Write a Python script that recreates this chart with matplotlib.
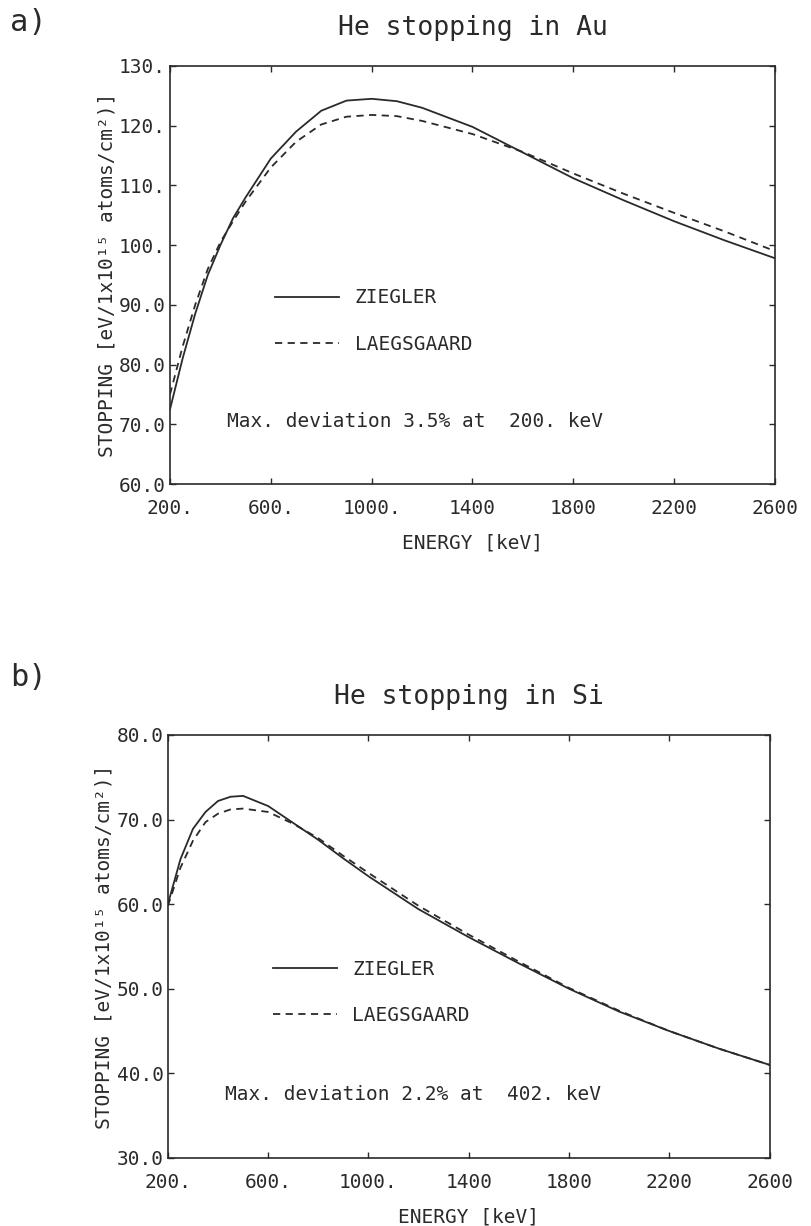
import numpy as np
import matplotlib.pyplot as plt

plt.rcParams['font.family'] = ['DejaVu Sans Mono', 'DejaVu Sans']

# He stopping in Au
energy_au = [200, 250, 300, 350, 400, 450, 500, 600, 700, 800, 900, 1000,
             1100, 1200, 1400, 1600, 1800, 2000, 2200, 2400, 2600]
ziegler_au = [72.5, 81.0, 88.5, 95.0, 100.0, 104.5, 108.0, 114.5, 119.0, 122.5,
              124.2, 124.5, 124.1, 123.0, 119.8, 115.5, 111.2, 107.5, 104.0,
              100.8, 97.8]
laeg_au = [75.0, 83.0, 90.0, 96.0, 100.5, 104.0, 107.3, 113.0, 117.3, 120.2,
           121.5, 121.8, 121.6, 120.8, 118.6, 115.6, 112.0, 108.6, 105.4,
           102.3, 99.0]

# He stopping in Si
energy_si = [200, 250, 300, 350, 400, 450, 500, 600, 700, 800, 900, 1000,
             1200, 1400, 1600, 1800, 2000, 2200, 2400, 2600]
ziegler_si = [60.0, 65.3, 68.9, 70.9, 72.2, 72.7, 72.8, 71.6, 69.6, 67.6, 65.4,
              63.3, 59.4, 56.1, 53.0, 50.0, 47.3, 45.0, 42.9, 41.0]
laeg_si = [59.8, 64.3, 67.5, 69.7, 70.7, 71.2, 71.3, 70.9, 69.5, 67.8, 65.7,
           63.7, 59.8, 56.4, 53.2, 50.1, 47.4, 45.0, 42.9, 41.0]

xticks = [200, 600, 1000, 1400, 1800, 2200, 2600]
xticklabels = ["200.", "600.", "1000.", "1400", "1800", "2200", "2600"]
yticks_au = [60, 70, 80, 90, 100, 110, 120, 130]
yticklabels_au = ["60.0", "70.0", "80.0", "90.0", "100.", "110.", "120.", "130."]
yticks_si = [30, 40, 50, 60, 70, 80]
yticklabels_si = ["30.0", "40.0", "50.0", "60.0", "70.0", "80.0"]

ink = "#2a2a2a"
ylab = "STOPPING [eV/1x10\u00b9\u2075 atoms/cm\u00b2)]"

fig = plt.figure(figsize=(8.11, 12.26), dpi=100)
ax1 = fig.add_axes([0.2096, 0.6052, 0.746, 0.341])
ax2 = fig.add_axes([0.207, 0.0555, 0.742, 0.345])


def draw(ax, e, z, l, yticks, ylabels, title, note):
    ax.plot(e, z, color=ink, lw=1.3, label="ZIEGLER")
    ax.plot(e, l, color=ink, lw=1.3, linestyle=(0, (4, 3)), label="LAEGSGAARD")
    ax.set_xlim(200, 2600)
    ax.set_ylim(yticks[0], yticks[-1])
    ax.set_xticks(xticks)
    ax.set_xticklabels(xticklabels)
    ax.set_yticks(yticks)
    ax.set_yticklabels(ylabels)
    ax.tick_params(direction="in", length=4, width=1, colors=ink, labelsize=14,
                   top=True, right=True, pad=3)
    ax.tick_params(axis="x", pad=11)
    for s in ax.spines.values():
        s.set_color(ink)
        s.set_linewidth(1.2)
    ax.set_xlabel("ENERGY [keV]", fontsize=14, color=ink, labelpad=11)
    ax.set_ylabel(ylab, fontsize=14, color=ink, labelpad=2)
    ax.set_title(title, fontsize=19, color=ink, pad=22)
    ax.legend(loc="upper left", bbox_to_anchor=(0.145, 0.51), frameon=False,
              handlelength=3.3, labelspacing=1.4, fontsize=14,
              labelcolor=ink)
    ax.text(0.095, 0.15, note, transform=ax.transAxes, fontsize=14,
            color=ink, va="center")


draw(ax1, energy_au, ziegler_au, laeg_au, yticks_au, yticklabels_au,
     "He stopping in Au", "Max. deviation 3.5% at  200. keV")
draw(ax2, energy_si, ziegler_si, laeg_si, yticks_si, yticklabels_si,
     "He stopping in Si", "Max. deviation 2.2% at  402. keV")

fig.text(0.012, 0.982, "a)", fontsize=22, color=ink, va="center")
fig.text(0.012, 0.447, "b)", fontsize=22, color=ink, va="center")

fig.savefig("out.png", dpi=100)
